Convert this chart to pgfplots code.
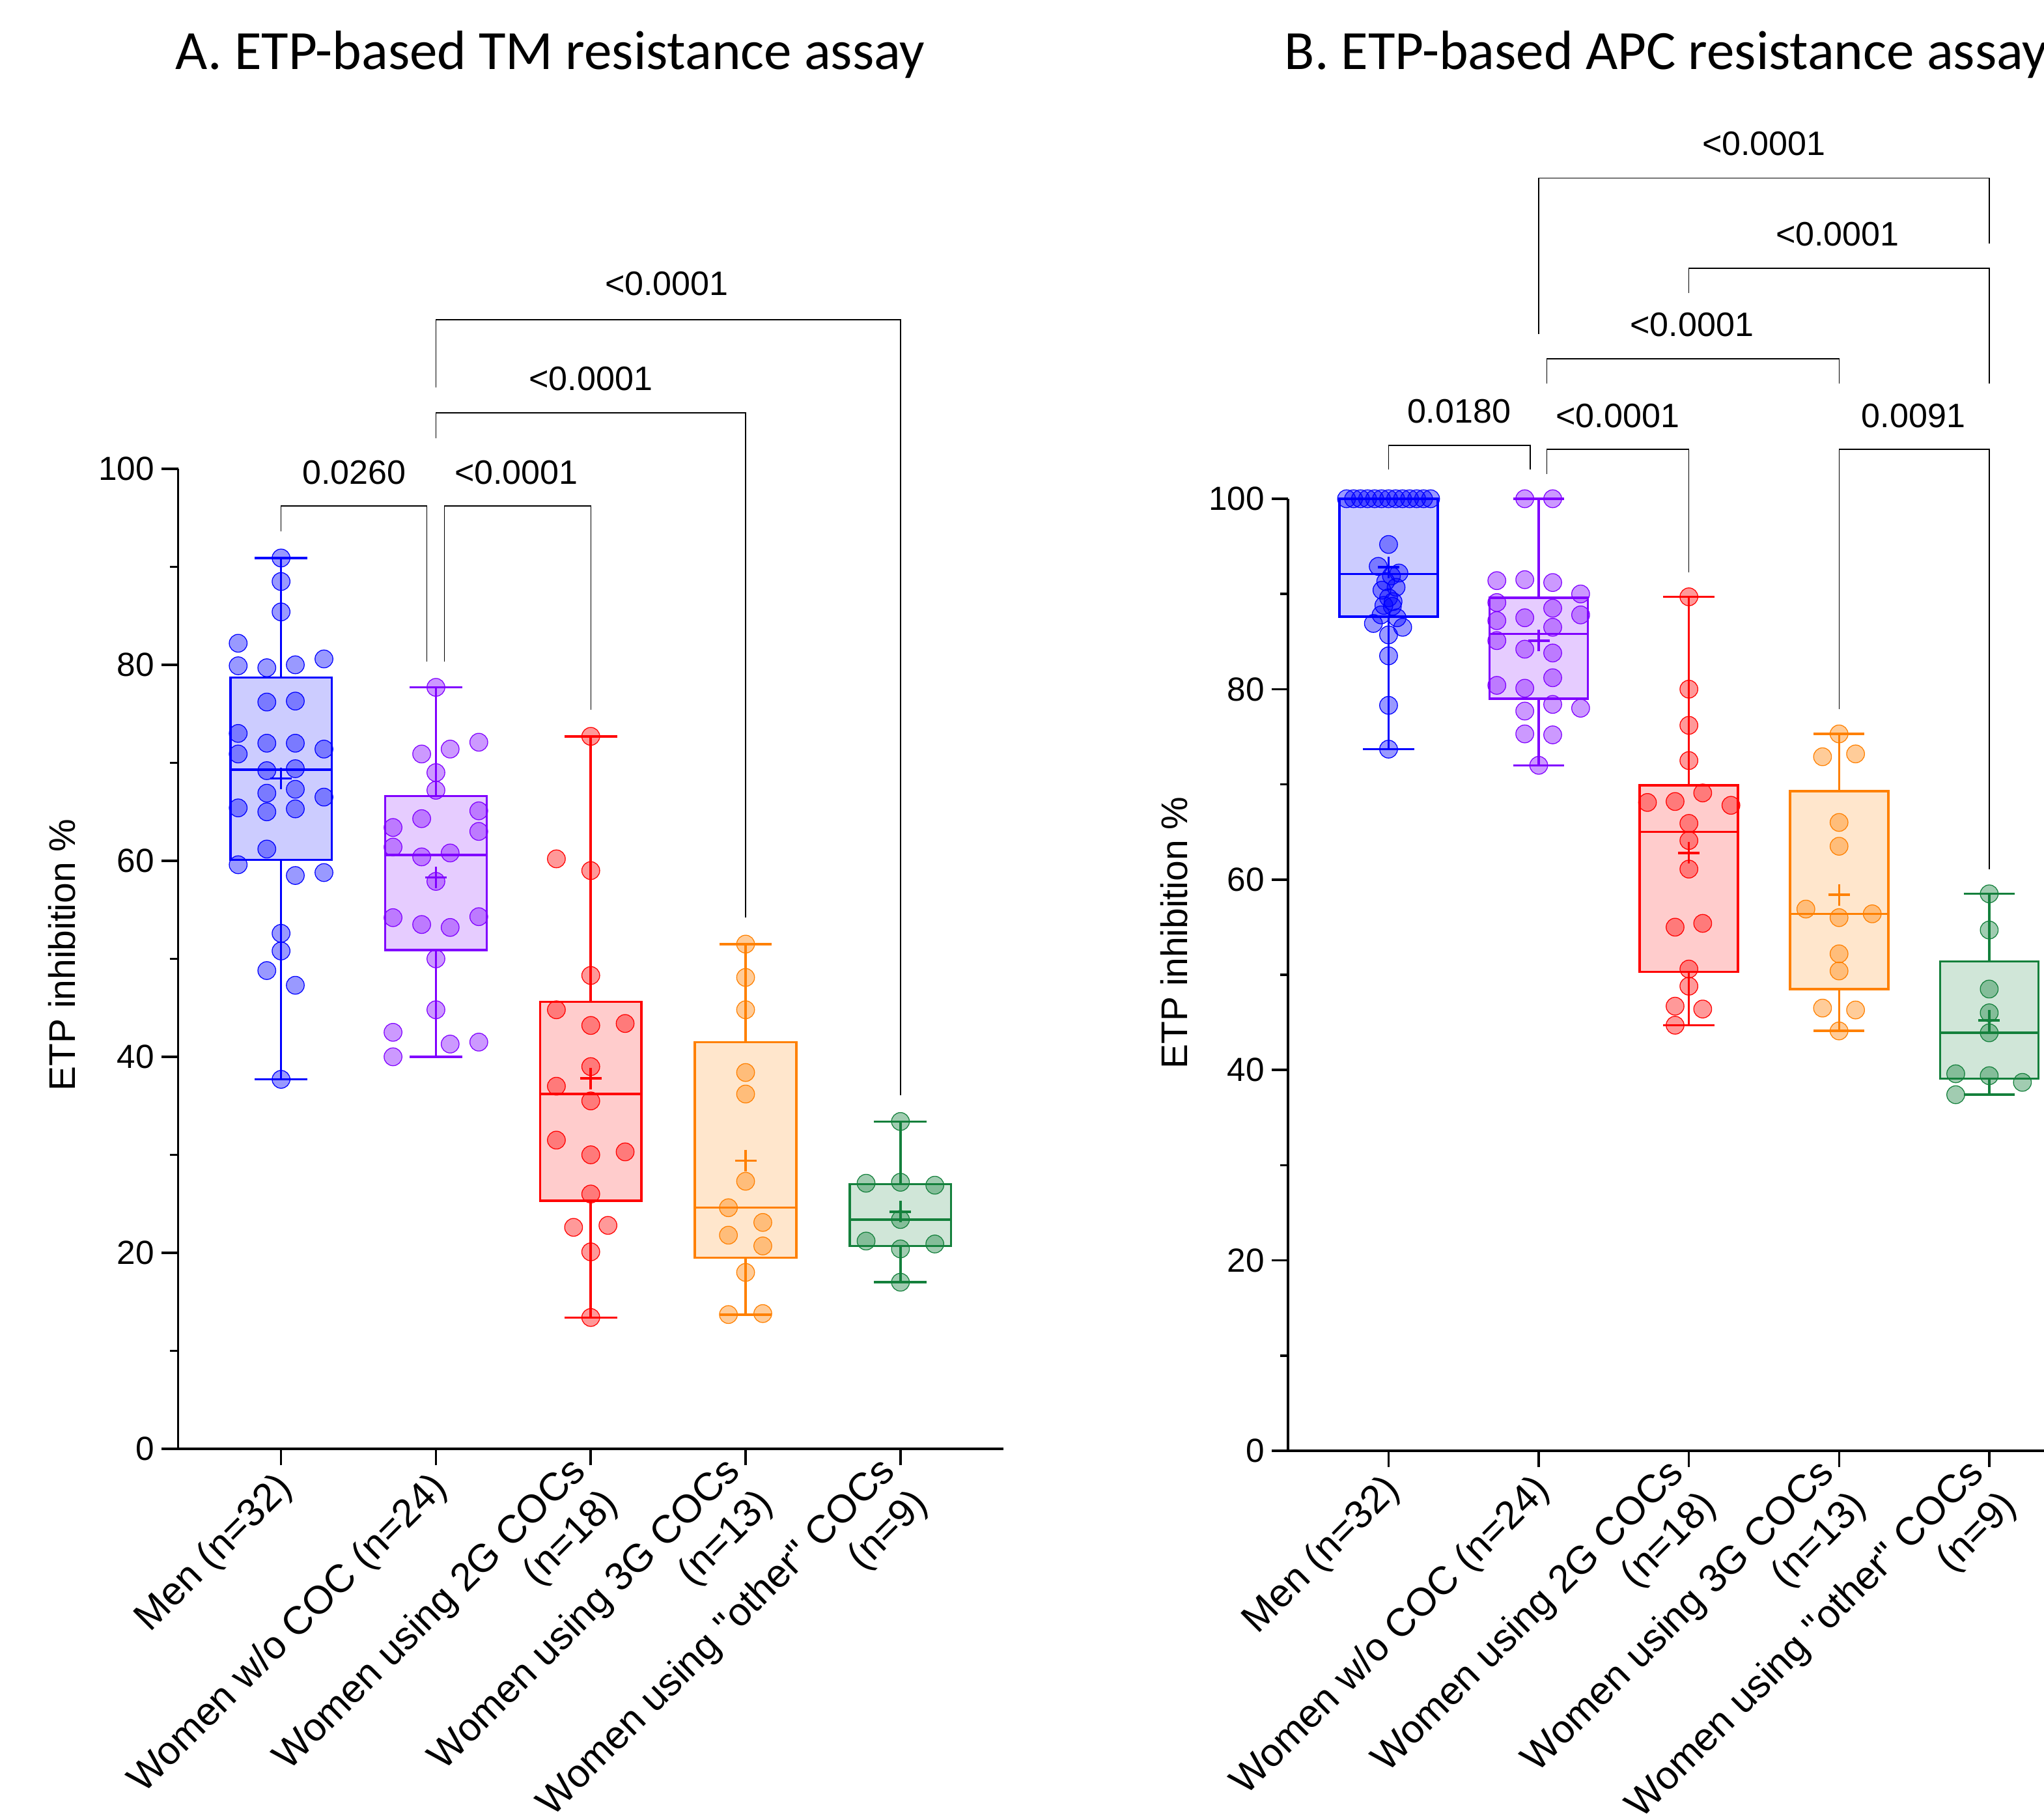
\documentclass[border=0pt]{standalone}
\usepackage{fontspec}
\setmainfont{Liberation Sans}
\newfontfamily\titlefont{Carlito}
\newfontfamily\qf{Liberation Sans}[Ligatures=TeXOff]
\usepackage{pgfplots}
\pgfplotsset{compat=1.18}

\definecolor{cM}{RGB}{0,0,255}
\definecolor{cW}{RGB}{128,0,255}
\definecolor{cR}{RGB}{255,0,0}
\definecolor{cO}{RGB}{255,128,0}
\definecolor{cG}{RGB}{20,128,60}

\newcommand{\pv}{\fontsize{7.4}{8.9}\selectfont}

% #1 colour, #2 position, #3 lower whisker, #4 Q1, #5 median, #6 Q3, #7 upper whisker
\newcommand{\bx}[7]{%
  \pgfmathsetmacro\bxl{#2-0.3275}\pgfmathsetmacro\bxr{#2+0.3275}%
  \pgfmathsetmacro\cpl{#2-0.17}\pgfmathsetmacro\cpr{#2+0.17}%
  \addplot[draw=#1, fill=#1!20, line width=0.5pt] coordinates {(\bxl,#4)(\bxr,#4)(\bxr,#6)(\bxl,#6)} -- cycle;
  \addplot[draw=#1, line width=0.5pt] coordinates {(\bxl,#5)(\bxr,#5)};
  \addplot[draw=#1, line width=0.5pt] coordinates {(#2,#4)(#2,#3)};
  \addplot[draw=#1, line width=0.5pt] coordinates {(#2,#6)(#2,#7)};
  \addplot[draw=#1, line width=0.5pt] coordinates {(\cpl,#3)(\cpr,#3)};
  \addplot[draw=#1, line width=0.5pt] coordinates {(\cpl,#7)(\cpr,#7)};
}
\newcommand{\pts}[2]{\addplot[only marks, mark=*, mark size=1.95pt,
  mark options={draw=#1, fill=#1, fill opacity=0.4, line width=0.18pt}] coordinates {#2};}
\newcommand{\mn}[3]{\addplot[only marks, mark=+, mark size=2.35pt,
  mark options={draw=#1, line width=0.5pt}] coordinates {(#2,#3)};}

\pgfplotsset{
  panel/.style={
    scale only axis, axis lines*=left, clip=false,
    ymin=0, ymax=100,
    xtick={1,2,3,4,5},
    xticklabels={Men (n=32), Women w/o COC (n=24), {Women using 2G COCs\\(n=18)}, {Women using 3G COCs\\(n=13)}, {Women using {\qf"}other{\qf"} COCs\\(n=9)}},
    ytick={0,20,40,60,80,100},
    minor ytick={10,30,50,70,90},
    tick align=outside,
    major tick length=0.1275cm, minor tick length=0.064cm,
    axis line style={line width=0.55pt, black},
    every tick/.style={line width=0.5pt, black},
    /pgf/number format/assume math mode=true,
    yticklabel style={font=\fontsize{7.3}{8.8}\selectfont, inner sep=1.4pt},
    xticklabel style={font=\fontsize{8.6}{10}\selectfont, xshift=0.07cm, yshift=-0.1cm, rotate=45, anchor=east, align=right, inner sep=1pt},
    ylabel={ETP inhibition \%},
    ylabel style={font=\fontsize{8.1}{9.7}\selectfont, anchor=center},
  }
}

\begin{document}
\begin{tikzpicture}
\useasboundingbox (0,0) rectangle (15.695cm,13.975cm);
\clip (0,0) rectangle (15.695cm,13.975cm);

\node[font=\titlefont\fontsize{12.1}{14.5}\selectfont] at (4.225cm,13.555cm) {A. ETP-based TM resistance assay};
\node[font=\titlefont\fontsize{12.1}{14.5}\selectfont, anchor=west] at (9.74cm,13.555cm) {B. ETP-based APC resistance assay};

% ---------------- Panel A ----------------
\begin{axis}[panel, at={(1.3675cm,2.85cm)}, anchor=south west,
  width=6.3375cm, height=7.525cm, xmin=0.335, xmax=5.665,
  ylabel style={at={(axis description cs:-0.1408,0.504)}}]
\bx{cM}{1}{37.7}{60.1}{69.3}{78.7}{90.9}
\bx{cW}{2}{40.0}{50.9}{60.6}{66.6}{77.7}
\bx{cR}{3}{13.4}{25.3}{36.2}{45.6}{72.7}
\bx{cO}{4}{13.7}{19.5}{24.6}{41.5}{51.5}
\bx{cG}{5}{17.0}{20.7}{23.4}{27.0}{33.4}

\pts{cM}{(1,90.9)(1,88.5)(1,85.4)(0.723,82.2)(0.723,79.9)(0.908,79.7)(1.092,80.0)(1.277,80.6)
(0.908,76.2)(1.092,76.3)(0.723,73.0)(0.908,72.0)(1.092,72.0)(0.723,70.9)(1.277,71.4)
(0.908,69.2)(1.092,69.4)(0.908,66.9)(1.092,67.3)(1.277,66.5)(0.723,65.4)(0.908,65.0)(1.092,65.3)
(0.908,61.2)(0.723,59.6)(1.092,58.5)(1.277,58.8)(1,52.6)(1,50.8)(0.908,48.8)(1.092,47.3)(1,37.7)}
\pts{cW}{(2,77.7)(1.908,70.9)(2.092,71.4)(2.277,72.1)(2,69.0)(2,67.2)(1.723,63.4)(1.908,64.3)
(2.277,65.1)(1.723,61.4)(2.277,63.0)(1.908,60.4)(2.092,60.8)(2,57.9)(1.723,54.2)(1.908,53.5)
(2.092,53.2)(2.277,54.3)(2,50.0)(2,44.8)(1.723,42.5)(2.092,41.3)(2.277,41.5)(1.723,40.0)}
\pts{cR}{(3,72.7)(2.778,60.2)(3,59.0)(3,48.3)(2.778,44.8)(3,43.2)(3.222,43.4)(3,39.0)(2.778,37.0)
(3,35.5)(2.778,31.5)(3,30.0)(3.222,30.3)(3,26.0)(2.889,22.6)(3.111,22.8)(3,20.1)(3,13.4)}
\pts{cO}{(4,51.5)(4,48.1)(4,44.8)(4,38.4)(4,36.2)(4,27.3)(3.889,24.6)(4.111,23.1)(3.889,21.8)
(4.111,20.7)(4,18.0)(3.889,13.7)(4.111,13.8)}
\pts{cG}{(5,33.4)(4.778,27.1)(5,27.2)(5.222,26.9)(5,23.4)(4.778,21.2)(5.222,20.9)(5,20.4)(5,17.0)}

\mn{cM}{1}{68.4}
\mn{cW}{2}{58.3}
\mn{cR}{3}{37.8}
\mn{cO}{4}{29.4}
\mn{cG}{5}{24.2}

\draw[line width=0.2pt] (axis cs:1,93.6) |- (axis cs:1.941,96.2) -- (axis cs:1.941,80.3);
\node[font=\pv] at (axis cs:1.472,99.65) {0.0260};
\draw[line width=0.2pt] (axis cs:2.056,80.3) |- (axis cs:3,96.2) -- (axis cs:3,75.4);
\node[font=\pv] at (axis cs:2.519,99.65) {<0.0001};
\draw[line width=0.2pt] (axis cs:2,103.1) |- (axis cs:4,105.7) -- (axis cs:4,54.2);
\node[font=\pv] at (axis cs:3.0,109.2) {<0.0001};
\draw[line width=0.2pt] (axis cs:2,108.3) |- (axis cs:5,115.2) -- (axis cs:5,36.1);
\node[font=\pv] at (axis cs:3.49,118.9) {<0.0001};
\end{axis}

% ---------------- Panel B ----------------
\begin{axis}[panel, at={(9.892cm,2.835cm)}, anchor=south west,
  width=6.1525cm, height=7.31cm, xmin=0.332, xmax=5.668,
  ylabel style={at={(axis description cs:-0.1425,0.544)}}]
\bx{cM}{1}{73.7}{87.6}{92.1}{100}{100}
\bx{cW}{2}{72.0}{79.0}{85.8}{89.6}{100}
\bx{cR}{3}{44.7}{50.3}{65.0}{69.9}{89.7}
\bx{cO}{4}{44.1}{48.5}{56.4}{69.3}{75.3}
\bx{cG}{5}{37.4}{39.1}{43.9}{51.4}{58.5}

\pts{cM}{(0.72,100)(0.767,100)(0.813,100)(0.86,100)(0.907,100)(0.953,100)(1.0,100)(1.047,100)
(1.093,100)(1.14,100)(1.187,100)(1.233,100)(1.28,100)
(1,95.2)(0.931,92.9)(1.069,92.2)(1.019,91.9)(0.981,91.3)(1.05,90.7)(0.956,90.4)(1,89.6)(1.03,89.2)
(0.969,88.8)(1.025,88.7)(0.95,87.8)(1.057,87.5)(0.899,86.9)(1.094,86.5)(1,85.7)(1,83.5)(1,78.3)(1,73.7)}
\pts{cW}{(1.907,100)(2.093,100)(1.721,91.4)(1.907,91.5)(2.093,91.2)(2.279,90.0)(1.721,89.1)(2.093,88.5)
(2.279,87.8)(1.721,87.2)(1.907,87.5)(2.093,86.5)(1.721,85.1)(1.907,84.2)(2.093,83.8)(2.093,81.2)
(1.721,80.4)(1.907,80.1)(2.093,78.4)(2.279,78.0)(1.907,77.7)(1.907,75.3)(2.093,75.2)(2,72.0)}
\pts{cR}{(3,89.7)(3,80.0)(3,76.2)(3,72.5)(2.724,68.1)(2.908,68.2)(3.092,69.1)(3.28,67.8)(3,65.9)
(3,64.1)(3,61.1)(2.908,55.0)(3.092,55.4)(3,50.6)(3,48.8)(2.908,46.7)(3.092,46.4)(2.908,44.7)}
\pts{cO}{(4,75.3)(3.89,72.9)(4.11,73.2)(4,66.0)(4,63.5)(3.779,56.9)(4,56.0)(4.221,56.4)(4,52.2)
(4,50.4)(3.89,46.5)(4.11,46.3)(4,44.1)}
\pts{cG}{(5,58.5)(5,54.7)(5,48.5)(5,46.0)(5,43.9)(4.777,39.6)(5,39.4)(5.221,38.7)(4.777,37.4)}

\mn{cM}{1}{92.8}
\mn{cW}{2}{85.1}
\mn{cR}{3}{62.8}
\mn{cO}{4}{58.4}
\mn{cG}{5}{45.2}

\draw[line width=0.2pt] (axis cs:1,103.1) |- (axis cs:1.943,105.6) -- (axis cs:1.943,103.1);
\node[font=\pv] at (axis cs:1.469,109.2) {0.0180};
\draw[line width=0.2pt] (axis cs:2.055,102.6) |- (axis cs:3,105.2) -- (axis cs:3,92.3);
\node[font=\pv] at (axis cs:2.526,108.7) {<0.0001};
\draw[line width=0.2pt] (axis cs:4,77.9) |- (axis cs:5,105.2) -- (axis cs:5,61.1);
\node[font=\pv] at (axis cs:4.495,108.7) {0.0091};
\draw[line width=0.2pt] (axis cs:2.055,112.1) |- (axis cs:4,114.7) -- (axis cs:4,112.1);
\node[font=\pv] at (axis cs:3.02,118.3) {<0.0001};
\draw[line width=0.2pt] (axis cs:3,121.6) |- (axis cs:5,124.2) -- (axis cs:5,112.1);
\node[font=\pv] at (axis cs:3.99,127.8) {<0.0001};
\draw[line width=0.2pt] (axis cs:2,117.3) |- (axis cs:5,133.7) -- (axis cs:5,126.8);
\node[font=\pv] at (axis cs:3.5,137.3) {<0.0001};
\end{axis}
\end{tikzpicture}
\end{document}
